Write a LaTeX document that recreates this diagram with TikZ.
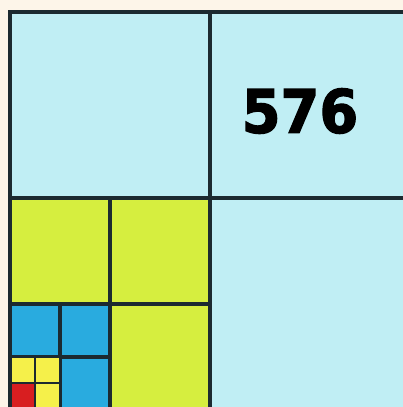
\documentclass[tikz,border=0pt]{standalone}
\usepackage{fontspec}
\newfontfamily\numfont[FakeBold=2.2]{DejaVu Sans Bold}
\definecolor{cream}{HTML}{FDF5E9}
\definecolor{lblue}{HTML}{C0EEF4}
\definecolor{lgreen}{HTML}{D6EE3F}
\definecolor{mblue}{HTML}{29ABDF}
\definecolor{yel}{HTML}{F5F04A}
\definecolor{rd}{HTML}{D81E20}
\definecolor{edge}{HTML}{1C2A30}
\begin{document}
\begin{tikzpicture}[x=1pt,y=-1pt,
  cell/.style={draw=edge,line width=3.2pt},
  thin cell/.style={draw=edge,line width=2.8pt}]
\useasboundingbox (0,0) rectangle (403,407);
\clip (0,0) rectangle (403,407);
\fill[cream] (0,0) rectangle (403,407);
% big light blue squares
\filldraw[cell,fill=lblue] (10,12) rectangle (210,198);
\filldraw[cell,fill=lblue] (210,12) rectangle (420,198);
\filldraw[cell,fill=lblue] (210,198) rectangle (420,420);
% green
\filldraw[cell,fill=lgreen] (10,198) rectangle (110,304);
\filldraw[cell,fill=lgreen] (110,198) rectangle (210,304);
\filldraw[cell,fill=lgreen] (110,304) rectangle (210,420);
% blue
\filldraw[cell,fill=mblue] (10,304) rectangle (60,357);
\filldraw[cell,fill=mblue] (60,304) rectangle (110,357);
\filldraw[cell,fill=mblue] (60,357) rectangle (110,420);
% yellow / red
\filldraw[thin cell,fill=yel] (10,357) rectangle (35,383);
\filldraw[thin cell,fill=yel] (35,357) rectangle (60,383);
\filldraw[thin cell,fill=rd] (10,383) rectangle (35,420);
\filldraw[thin cell,fill=yel] (35,383) rectangle (60,420);
% outer left edge, uniform
\draw[cell] (10,12) -- (10,420);
\node[font=\numfont\fontsize{60}{60}\selectfont,inner sep=0pt,xscale=0.93] (num) at (300,111) {576};
\end{tikzpicture}
\end{document}
